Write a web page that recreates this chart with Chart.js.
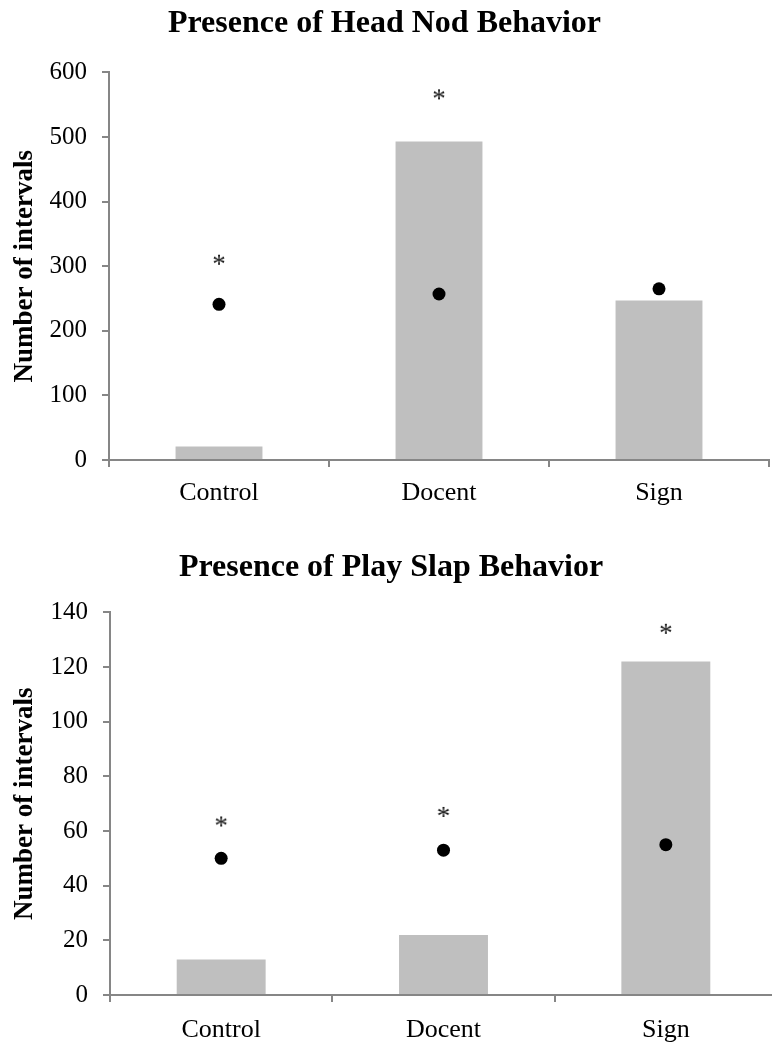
<!DOCTYPE html>
<html>
<head>
<meta charset="utf-8">
<script src="https://cdn.jsdelivr.net/npm/chart.js@4.4.1/dist/chart.umd.min.js"></script>
<style>
  html, body { margin: 0; padding: 0; background: #fff; overflow: hidden; }
  #wrap { position: relative; width: 772px; height: 1045px; overflow: hidden; }
  canvas { position: absolute; left: 0; }
  #headNod { top: 0; }
  #playSlap { top: 520px; }
</style>
</head>
<body>
<div id="wrap">
  <canvas id="headNod" width="790" height="510"></canvas>
  <canvas id="playSlap" width="790" height="525"></canvas>
</div>
<script>
// ─── DATI ─────────────────────────────────────────────────────────
const categories = ["Control", "Docent", "Sign"];

const headNodBars = [21, 493, 247];
const headNodDots = [241, 257, 265];
const headNodStars = [310, 566, null];

const playSlapBars = [13, 22, 122];
const playSlapDots = [50, 53, 55];
const playSlapStars = [63.5, 67, 134];

const AXIS = "#868686";
const SERIF = "'Liberation Serif', 'Times New Roman', serif";

// asterisco disegnato su un piccolo canvas, usato come pointStyle
function starImage() {
  const c = document.createElement("canvas");
  c.width = 24;
  c.height = 24;
  const g = c.getContext("2d");
  g.font = "27px " + SERIF;
  g.fillStyle = "#111";
  g.textAlign = "center";
  const m = g.measureText("*");
  g.fillText("*", 12, 12 + (m.actualBoundingBoxAscent - m.actualBoundingBoxDescent) / 2);
  return c;
}
const star = starImage();

function buildChart(id, opts) {
  const ctx = document.getElementById(id).getContext("2d");
  return new Chart(ctx, {
    data: {
      labels: categories,
      datasets: [
        {
          type: "line",
          data: opts.stars,
          showLine: false,
          pointStyle: star,
          pointRadius: 12,
          order: 2,
        },
        {
          type: "line",
          data: opts.dots,
          showLine: false,
          pointStyle: "circle",
          pointRadius: 6.5,
          backgroundColor: "#000",
          borderColor: "#000",
          borderWidth: 0,
          order: 1,
        },
        {
          type: "bar",
          data: opts.bars,
          backgroundColor: "#bfbfbf",
          categoryPercentage: 1,
          barPercentage: opts.barPct,
          order: 3,
        },
      ],
    },
    options: {
      responsive: false,
      animation: false,
      layout: { padding: { left: 0, right: opts.padRight, top: 0, bottom: 0 } },
      plugins: {
        legend: { display: false },
        tooltip: { enabled: false },
        title: {
          display: true,
          text: opts.title,
          color: "#000",
          font: { family: SERIF, size: 32, weight: "bold" },
          padding: opts.titlePad,
        },
      },
      scales: {
        x: {
          offset: true,
          afterFit: (scale) => { scale.height = 50; },
          border: { color: AXIS, width: 2 },
          grid: {
            offset: true,
            drawOnChartArea: false,
            drawTicks: true,
            tickLength: 7,
            color: AXIS,
            lineWidth: 2,
          },
          ticks: {
            color: "#000",
            padding: opts.labelPad,
            font: { family: SERIF, size: 26 },
          },
        },
        y: {
          min: 0,
          max: opts.max,
          afterFit: (scale) => { scale.width = opts.left; },
          border: { color: AXIS, width: 2 },
          grid: {
            drawOnChartArea: false,
            drawTicks: true,
            tickLength: 7,
            color: AXIS,
            lineWidth: 2,
          },
          ticks: {
            stepSize: opts.step,
            color: "#000",
            padding: 15,
            font: { family: SERIF, size: 25 },
          },
          title: {
            display: true,
            text: "Number of intervals",
            color: "#000",
            font: { family: SERIF, size: 27, weight: "bold" },
            padding: { top: 9, bottom: 0 },
          },
        },
      },
    },
  });
}

// ─── INIT ─────────────────────────────────────────────────────────
buildChart("headNod", {
  title: "Presence of Head Nod Behavior",
  bars: headNodBars,
  dots: headNodDots,
  stars: headNodStars,
  max: 600,
  step: 100,
  left: 109,
  padRight: 21,
  barPct: 0.395,
  labelPad: 11,
  titlePad: { top: 5, bottom: 29 },
});

buildChart("playSlap", {
  title: "Presence of Play Slap Behavior",
  bars: playSlapBars,
  dots: playSlapDots,
  stars: playSlapStars,
  max: 140,
  step: 20,
  left: 110,
  padRight: 8,
  barPct: 0.4,
  labelPad: 13,
  titlePad: { top: 29, bottom: 25 },
});
</script>
</body>
</html>
